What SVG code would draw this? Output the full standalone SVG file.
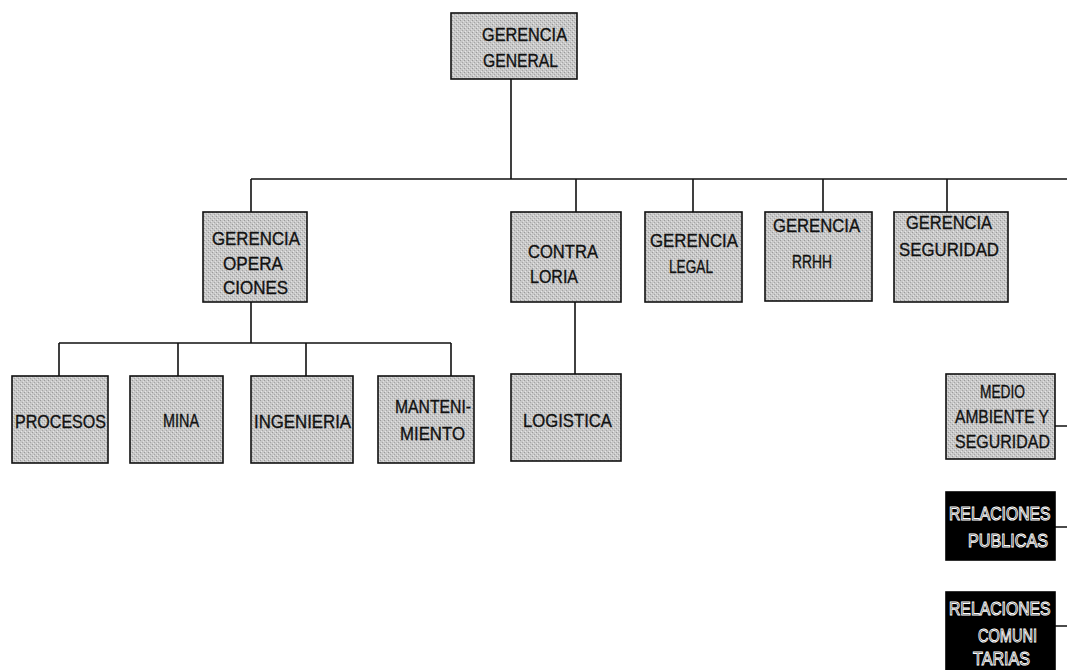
<svg xmlns="http://www.w3.org/2000/svg" width="1067" height="670" viewBox="0 0 1067 670">
<defs>
<pattern id="dots" width="4" height="4" patternUnits="userSpaceOnUse">
<rect width="4" height="4" fill="#c8c8c8"/>
<rect x="0" y="0" width="1" height="1" fill="#9a9a9a"/>
<rect x="2" y="2" width="1" height="1" fill="#a5a5a5"/>
<rect x="1" y="3" width="1" height="1" fill="#e6e6e6"/>
<rect x="3" y="1" width="1" height="1" fill="#e0e0e0"/>
</pattern>
</defs>
<style>
.box{fill:url(#dots);stroke:#111;stroke-width:1.6}
.dark{fill:#000;stroke:#000;stroke-width:1.6}
.t{font-family:"Liberation Sans",Arial,sans-serif;font-size:19px;fill:#111;stroke:#111;stroke-width:0.35}
.w{font-family:"Liberation Sans",Arial,sans-serif;font-size:19px;fill:#000;stroke:#fff;stroke-width:1}
.ln{stroke:#111;stroke-width:1.6;fill:none}
</style>
<rect width="1067" height="670" fill="#fff"/>
<g id="connectors">
<path class="ln" d="M511 79V179M251 179H1067M251 179V212M576 179V212M693 179V212M823 179V212M947 179V212"/>
<path class="ln" d="M251 302V343M59 343H451M59 343V376M178 343V376M306 343V376M451 343V376"/>
<path class="ln" d="M575 302V374"/>
<path class="ln" d="M1055 426H1067M1055 527H1067M1055 626H1067"/>
</g>
<g id="gerencia-general">
<rect class="box" x="451" y="13" width="126" height="66"/>
<text class="t" x="482" y="41" textLength="85" lengthAdjust="spacingAndGlyphs">GERENCIA</text>
<text class="t" x="483" y="67" textLength="75" lengthAdjust="spacingAndGlyphs">GENERAL</text>
</g>
<g id="gerencia-operaciones">
<rect class="box" x="203" y="212" width="104" height="90"/>
<text class="t" x="212" y="245" textLength="88" lengthAdjust="spacingAndGlyphs">GERENCIA</text>
<text class="t" x="223" y="270" textLength="60" lengthAdjust="spacingAndGlyphs">OPERA</text>
<text class="t" x="223" y="294" textLength="65" lengthAdjust="spacingAndGlyphs">CIONES</text>
</g>
<g id="contraloria">
<rect class="box" x="511" y="212" width="110" height="90"/>
<text class="t" x="528" y="258" textLength="70" lengthAdjust="spacingAndGlyphs">CONTRA</text>
<text class="t" x="530" y="283" textLength="48" lengthAdjust="spacingAndGlyphs">LORIA</text>
</g>
<g id="gerencia-legal">
<rect class="box" x="645" y="212" width="97" height="90"/>
<text class="t" x="650" y="247" textLength="88" lengthAdjust="spacingAndGlyphs">GERENCIA</text>
<text class="t" x="669" y="273" textLength="44" lengthAdjust="spacingAndGlyphs">LEGAL</text>
</g>
<g id="gerencia-rrhh">
<rect class="box" x="765" y="212" width="107" height="89"/>
<text class="t" x="773" y="232" textLength="87" lengthAdjust="spacingAndGlyphs">GERENCIA</text>
<text class="t" x="792" y="268" textLength="40" lengthAdjust="spacingAndGlyphs">RRHH</text>
</g>
<g id="gerencia-seguridad">
<rect class="box" x="894" y="212" width="114" height="90"/>
<text class="t" x="906" y="229" textLength="86" lengthAdjust="spacingAndGlyphs">GERENCIA</text>
<text class="t" x="899" y="256" textLength="100" lengthAdjust="spacingAndGlyphs">SEGURIDAD</text>
</g>
<g id="procesos">
<rect class="box" x="12" y="376" width="96" height="87"/>
<text class="t" x="15" y="428" textLength="91" lengthAdjust="spacingAndGlyphs">PROCESOS</text>
</g>
<g id="mina">
<rect class="box" x="130" y="376" width="93" height="87"/>
<text class="t" x="163" y="427" textLength="36" lengthAdjust="spacingAndGlyphs">MINA</text>
</g>
<g id="ingenieria">
<rect class="box" x="251" y="376" width="102" height="87"/>
<text class="t" x="254" y="428" textLength="97" lengthAdjust="spacingAndGlyphs">INGENIERIA</text>
</g>
<g id="mantenimiento">
<rect class="box" x="378" y="376" width="96" height="87"/>
<text class="t" x="395" y="413" textLength="76" lengthAdjust="spacingAndGlyphs">MANTENI-</text>
<text class="t" x="400" y="440" textLength="65" lengthAdjust="spacingAndGlyphs">MIENTO</text>
</g>
<g id="logistica">
<rect class="box" x="511" y="374" width="110" height="87"/>
<text class="t" x="523" y="427" textLength="89" lengthAdjust="spacingAndGlyphs">LOGISTICA</text>
</g>
<g id="medio-ambiente">
<rect class="box" x="946" y="374" width="109" height="85"/>
<text class="t" x="980" y="398" textLength="45" lengthAdjust="spacingAndGlyphs">MEDIO</text>
<text class="t" transform="translate(955 423) scale(0.82 1)">AMBIENTE Y</text>
<text class="t" x="955" y="448" textLength="95" lengthAdjust="spacingAndGlyphs">SEGURIDAD</text>
</g>
<g id="relaciones-publicas">
<rect class="dark" x="946" y="492" width="109" height="68"/>
<text class="w" transform="translate(949 520) scale(0.83 1)">RELACIONES</text>
<text class="w" x="968" y="547" textLength="80" lengthAdjust="spacingAndGlyphs">PUBLICAS</text>
</g>
<g id="relaciones-comunitarias">
<rect class="dark" x="946" y="592" width="109" height="80"/>
<text class="w" transform="translate(949 615) scale(0.83 1)">RELACIONES</text>
<text class="w" x="978" y="642" textLength="59" lengthAdjust="spacingAndGlyphs">COMUNI</text>
<text class="w" x="973" y="665" textLength="57" lengthAdjust="spacingAndGlyphs">TARIAS</text>
</g>
</svg>
